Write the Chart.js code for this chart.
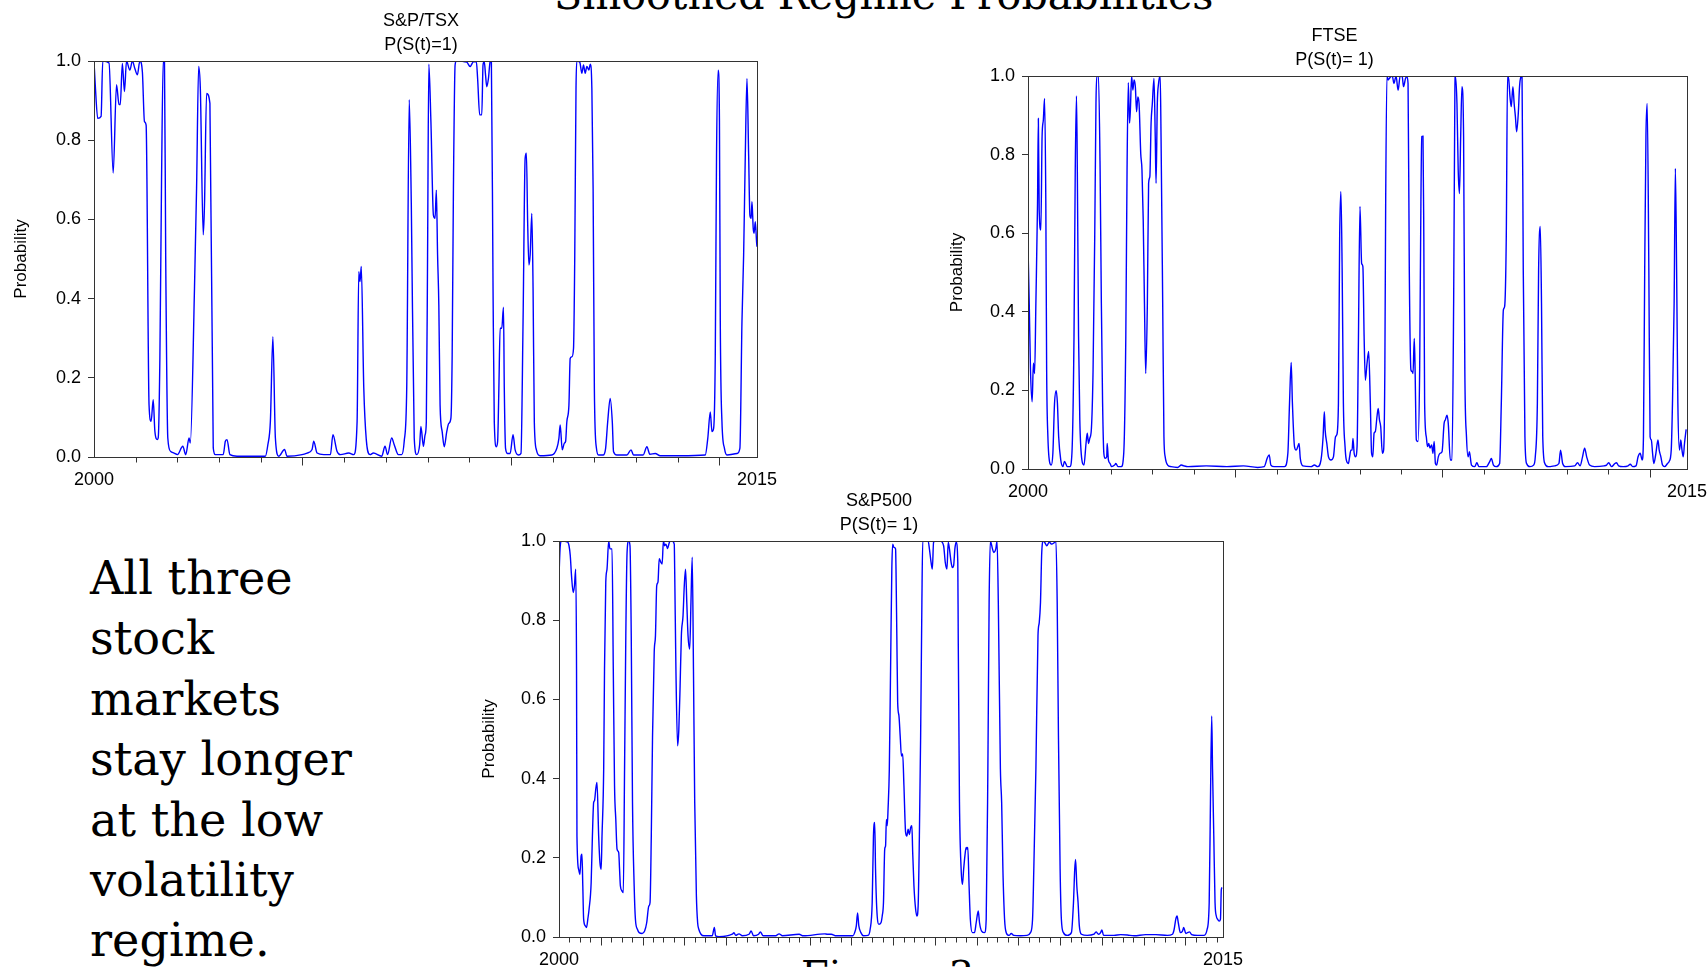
<!DOCTYPE html>
<html>
<head>
<meta charset="utf-8">
<title>Smoothed Regime Probabilities</title>
<script src="https://cdn.jsdelivr.net/npm/chart.js@4.4.0/dist/chart.umd.min.js"></script>
<style>
  html, body { margin: 0; padding: 0; background: #fff; overflow: hidden; width: 1708px; height: 967px; }
  .slide-title { position: absolute; left: 554px; top: -25px; font: 41.2px/41.2px "DejaVu Serif", serif; white-space: nowrap; color: #000; }
  .note { position: absolute; left: 90px; top: 548px; font: 46.2px/60.4px "DejaVu Serif", serif; color: #000; }
  .fig { position: absolute; left: 801px; top: 955px; font: 40px/40px "DejaVu Serif", serif; white-space: nowrap; color: #000; }
  canvas { position: absolute; }
</style>
</head>
<body>
<div class="slide-title">Smoothed Regime Probabilities</div>
<div class="note">All three<br>stock<br>markets<br>stay longer<br>at the low<br>volatility<br>regime.</div>
<div class="fig">Figure 3</div>
<canvas id="tsxChart"></canvas>
<canvas id="ftseChart"></canvas>
<canvas id="spChart"></canvas>
<script>
// smoothed probability of regime 1 (decimal years)
const tsxYears = [2000.00,2000.03,2000.09,2000.17,2000.21,2000.36,2000.46,2000.54,2000.60,2000.63,2000.68,2000.73,2000.78,2000.86,2000.92,2000.98,2001.04,2001.10,2001.16,2001.21,2001.25,2001.32,2001.37,2001.42,2001.46,2001.52,2001.54,2001.58,2001.62,2001.66,2001.69,2001.72,2001.77,2001.84,2001.92,2002.00,2002.13,2002.20,2002.28,2002.31,2002.41,2002.46,2002.51,2002.55,2002.62,2002.65,2002.70,2002.78,2002.86,2002.91,2003.10,2003.15,2003.19,2003.26,2003.43,2004.11,2004.17,2004.23,2004.29,2004.35,2004.43,2004.57,2004.63,2004.99,2005.11,2005.23,2005.27,2005.35,2005.51,2005.67,2005.73,2005.83,2005.91,2006.11,2006.23,2006.31,2006.35,2006.38,2006.41,2006.47,2006.53,2006.62,2006.70,2006.90,2006.98,2007.04,2007.14,2007.20,2007.30,2007.38,2007.44,2007.50,2007.56,2007.61,2007.68,2007.74,2007.81,2007.84,2007.90,2007.94,2007.97,2008.00,2008.03,2008.08,2008.14,2008.18,2008.21,2008.24,2008.27,2008.30,2008.35,2008.40,2008.46,2008.51,2008.56,2008.59,2008.62,2008.66,2008.69,2008.94,2009.02,2009.10,2009.17,2009.20,2009.25,2009.30,2009.33,2009.36,2009.39,2009.42,2009.46,2009.50,2009.53,2009.57,2009.60,2009.65,2009.68,2009.71,2009.74,2009.78,2009.82,2009.84,2009.87,2009.92,2009.98,2010.05,2010.10,2010.18,2010.24,2010.29,2010.34,2010.37,2010.40,2010.43,2010.46,2010.50,2010.53,2010.56,2010.61,2010.70,2010.98,2011.10,2011.15,2011.18,2011.23,2011.28,2011.31,2011.34,2011.39,2011.42,2011.46,2011.50,2011.53,2011.56,2011.58,2011.65,2011.70,2011.74,2011.78,2011.82,2011.87,2011.90,2011.94,2011.97,2012.00,2012.05,2012.10,2012.21,2012.27,2012.32,2012.38,2012.43,2012.46,2012.54,2012.78,2012.88,2012.94,2013.17,2013.26,2013.33,2013.46,2013.58,2014.06,2014.66,2014.72,2014.78,2014.82,2014.86,2014.90,2014.93,2014.97,2015.00,2015.02,2015.06,2015.12,2015.18,2015.42,2015.49,2015.54,2015.58,2015.62,2015.66,2015.70,2015.73,2015.76,2015.78,2015.81,2015.83,2015.86,2015.89,2015.90];
const tsxProb = [1.0,0.94,0.855,0.86,1.0,0.995,0.717,0.94,0.89,0.89,0.994,0.923,1.0,0.977,1.0,0.981,0.965,1.0,0.973,0.847,0.838,0.132,0.09,0.145,0.065,0.044,0.048,0.25,0.7,1.0,1.0,0.5,0.048,0.014,0.01,0.006,0.027,0.006,0.048,0.035,0.426,0.679,0.986,0.931,0.561,0.637,0.918,0.893,0.023,0.006,0.006,0.04,0.044,0.006,0.002,0.002,0.031,0.09,0.304,0.048,0.002,0.019,0.002,0.006,0.01,0.019,0.04,0.01,0.006,0.006,0.056,0.014,0.006,0.01,0.006,0.09,0.468,0.443,0.481,0.174,0.044,0.006,0.01,0.002,0.027,0.006,0.048,0.031,0.006,0.006,0.04,0.174,0.902,0.637,0.048,0.006,0.031,0.077,0.027,0.056,0.089,0.51,0.992,0.847,0.611,0.603,0.674,0.51,0.384,0.131,0.064,0.026,0.064,0.085,0.098,0.258,0.678,0.99,1.0,0.997,0.986,0.998,0.998,0.956,0.864,0.864,0.99,0.998,0.965,0.935,0.956,0.998,1.0,0.426,0.089,0.026,0.039,0.173,0.325,0.325,0.378,0.173,0.022,0.009,0.009,0.056,0.018,0.005,0.009,0.342,0.754,0.767,0.594,0.485,0.51,0.615,0.426,0.089,0.018,0.003,0.005,0.022,0.047,0.081,0.018,0.035,0.039,0.089,0.131,0.249,0.253,0.274,0.51,0.931,1.0,0.997,0.969,0.99,0.969,0.986,0.977,0.992,0.931,0.678,0.173,0.022,0.005,0.005,0.022,0.089,0.148,0.089,0.013,0.005,0.005,0.018,0.005,0.005,0.026,0.007,0.009,0.003,0.003,0.005,0.047,0.114,0.064,0.072,0.258,0.763,0.977,0.847,0.342,0.089,0.022,0.005,0.009,0.022,0.342,0.51,0.763,0.956,0.763,0.611,0.603,0.645,0.577,0.565,0.594,0.544,0.531];

const ftseYears = [2000.00,2000.03,2000.06,2000.10,2000.13,2000.16,2000.19,2000.23,2000.25,2000.27,2000.31,2000.34,2000.37,2000.40,2000.43,2000.45,2000.48,2000.53,2000.56,2000.60,2000.64,2000.68,2000.71,2000.74,2000.79,2000.84,2000.88,2000.95,2001.01,2001.06,2001.11,2001.14,2001.17,2001.19,2001.22,2001.25,2001.30,2001.35,2001.40,2001.43,2001.46,2001.49,2001.53,2001.57,2001.61,2001.64,2001.66,2001.70,2001.74,2001.77,2001.80,2001.83,2001.86,2001.90,2001.91,2001.94,2001.98,2002.02,2002.09,2002.12,2002.17,2002.25,2002.31,2002.36,2002.39,2002.42,2002.45,2002.47,2002.50,2002.53,2002.56,2002.59,2002.62,2002.65,2002.68,2002.72,2002.75,2002.78,2002.81,2002.84,2002.88,2002.91,2002.94,2002.97,2003.00,2003.04,2003.07,2003.09,2003.12,2003.15,2003.19,2003.21,2003.25,2003.28,2003.31,2003.37,2003.45,2003.61,2003.70,2003.76,2003.86,2004.30,2004.80,2005.20,2005.54,2005.70,2005.77,2005.82,2005.86,2005.94,2006.19,2006.27,2006.31,2006.35,2006.38,2006.43,2006.47,2006.51,2006.54,2006.57,2006.63,2006.83,2006.91,2006.99,2007.07,2007.12,2007.15,2007.17,2007.21,2007.25,2007.31,2007.37,2007.42,2007.45,2007.49,2007.52,2007.55,2007.58,2007.61,2007.65,2007.68,2007.73,2007.76,2007.79,2007.82,2007.84,2007.87,2007.90,2007.94,2007.97,2008.01,2008.05,2008.08,2008.11,2008.14,2008.18,2008.22,2008.26,2008.29,2008.32,2008.35,2008.38,2008.42,2008.45,2008.48,2008.51,2008.55,2008.58,2008.61,2008.63,2008.66,2008.69,2008.74,2008.79,2008.83,2008.88,2008.93,2008.98,2009.03,2009.06,2009.11,2009.14,2009.17,2009.20,2009.24,2009.27,2009.29,2009.32,2009.34,2009.37,2009.41,2009.45,2009.48,2009.50,2009.53,2009.55,2009.57,2009.61,2009.64,2009.67,2009.70,2009.74,2009.77,2009.80,2009.83,2009.86,2009.90,2009.94,2009.99,2010.04,2010.07,2010.11,2010.14,2010.19,2010.23,2010.27,2010.30,2010.31,2010.35,2010.38,2010.41,2010.44,2010.47,2010.51,2010.54,2010.58,2010.62,2010.65,2010.70,2010.78,2010.83,2010.88,2011.06,2011.14,2011.18,2011.23,2011.30,2011.38,2011.42,2011.47,2011.50,2011.54,2011.57,2011.60,2011.63,2011.66,2011.70,2011.73,2011.76,2011.79,2011.83,2011.86,2011.89,2011.92,2011.95,2011.99,2012.03,2012.11,2012.20,2012.24,2012.29,2012.32,2012.36,2012.39,2012.42,2012.47,2012.55,2012.71,2012.81,2012.85,2012.90,2012.97,2013.19,2013.26,2013.32,2013.38,2013.43,2013.48,2013.55,2013.67,2013.90,2013.96,2014.01,2014.08,2014.16,2014.20,2014.25,2014.36,2014.48,2014.53,2014.59,2014.67,2014.72,2014.77,2014.82,2014.85,2014.88,2014.91,2014.94,2014.98,2015.01,2015.04,2015.07,2015.10,2015.15,2015.20,2015.23,2015.27,2015.31,2015.36,2015.43,2015.47,2015.52,2015.55,2015.59,2015.62,2015.65,2015.68,2015.72,2015.75,2015.78,2015.81,2015.84,2015.88];
const ftseProb = [0.566,0.422,0.252,0.171,0.269,0.243,0.422,0.676,0.892,0.659,0.608,0.846,0.888,0.943,0.676,0.252,0.082,0.014,0.01,0.04,0.167,0.199,0.167,0.082,0.023,0.006,0.019,0.006,0.006,0.04,0.337,0.761,0.949,0.761,0.337,0.125,0.023,0.01,0.065,0.091,0.065,0.078,0.103,0.252,0.591,0.93,1.0,1.0,0.761,0.422,0.167,0.04,0.027,0.031,0.065,0.023,0.014,0.006,0.01,0.014,0.006,0.006,0.04,0.337,0.761,0.983,0.88,0.913,1.0,0.964,0.99,0.973,0.909,0.947,0.93,0.803,0.761,0.634,0.422,0.243,0.422,0.727,0.744,0.88,0.93,0.994,0.846,0.727,0.93,0.981,1.0,0.846,0.422,0.082,0.031,0.01,0.006,0.004,0.01,0.008,0.006,0.008,0.006,0.008,0.004,0.006,0.027,0.036,0.01,0.006,0.006,0.04,0.167,0.271,0.167,0.057,0.048,0.057,0.065,0.027,0.008,0.006,0.01,0.006,0.023,0.082,0.146,0.099,0.065,0.031,0.023,0.031,0.082,0.087,0.167,0.591,0.706,0.506,0.167,0.057,0.023,0.014,0.031,0.048,0.048,0.078,0.04,0.031,0.057,0.3,0.668,0.523,0.515,0.337,0.226,0.269,0.299,0.167,0.04,0.031,0.091,0.095,0.133,0.154,0.125,0.108,0.04,0.048,0.252,0.676,1.0,0.99,0.997,1.0,0.981,1.0,0.964,1.0,0.998,0.973,0.994,0.998,0.981,0.506,0.252,0.248,0.243,0.332,0.252,0.074,0.07,0.252,0.676,0.846,0.847,0.591,0.167,0.082,0.057,0.065,0.053,0.061,0.04,0.07,0.014,0.01,0.031,0.04,0.044,0.116,0.125,0.137,0.116,0.023,0.023,0.422,0.964,1.0,0.93,0.761,0.701,0.846,0.973,0.846,0.252,0.082,0.031,0.044,0.01,0.006,0.016,0.006,0.006,0.019,0.027,0.01,0.006,0.014,0.167,0.405,0.413,0.591,1.0,0.99,0.947,0.922,0.973,0.93,0.897,0.858,0.905,0.973,0.997,1.0,0.506,0.082,0.014,0.006,0.01,0.031,0.167,0.506,0.617,0.422,0.082,0.014,0.006,0.008,0.014,0.048,0.014,0.006,0.008,0.016,0.008,0.031,0.053,0.031,0.01,0.006,0.008,0.01,0.016,0.006,0.014,0.016,0.008,0.006,0.008,0.012,0.006,0.008,0.031,0.04,0.023,0.082,0.506,0.846,0.93,0.506,0.082,0.074,0.04,0.014,0.04,0.074,0.048,0.031,0.01,0.006,0.014,0.019,0.048,0.167,0.422,0.765,0.506,0.167,0.048,0.074,0.048,0.031,0.065,0.101];

const spYears = [2000.00,2000.03,2000.06,2000.21,2000.24,2000.27,2000.30,2000.34,2000.37,2000.40,2000.42,2000.43,2000.47,2000.50,2000.53,2000.55,2000.57,2000.59,2000.63,2000.66,2000.69,2000.72,2000.77,2000.80,2000.83,2000.85,2000.88,2000.91,2000.95,2000.98,2001.01,2001.03,2001.07,2001.09,2001.12,2001.15,2001.19,2001.22,2001.27,2001.30,2001.33,2001.36,2001.39,2001.43,2001.45,2001.47,2001.51,2001.54,2001.57,2001.60,2001.63,2001.67,2001.70,2001.73,2001.76,2001.80,2001.83,2001.88,2001.92,2001.99,2002.05,2002.10,2002.15,2002.18,2002.21,2002.24,2002.28,2002.31,2002.34,2002.37,2002.40,2002.44,2002.47,2002.50,2002.53,2002.56,2002.60,2002.63,2002.66,2002.71,2002.76,2002.77,2002.80,2002.84,2002.87,2002.90,2002.93,2002.97,2003.00,2003.03,2003.06,2003.09,2003.13,2003.16,2003.19,2003.22,2003.25,2003.29,2003.32,2003.35,2003.40,2003.47,2003.67,2003.72,2003.75,2003.83,2004.15,2004.19,2004.23,2004.31,2004.39,2004.55,2004.60,2004.66,2004.78,2004.82,2004.89,2005.19,2005.27,2005.35,2005.75,2005.85,2006.36,2006.43,2006.52,2006.64,2007.04,2007.08,2007.12,2007.15,2007.18,2007.23,2007.29,2007.40,2007.45,2007.50,2007.53,2007.56,2007.58,2007.61,2007.66,2007.71,2007.74,2007.77,2007.80,2007.82,2007.84,2007.86,2007.88,2007.91,2007.94,2007.97,2007.99,2008.02,2008.06,2008.07,2008.09,2008.11,2008.14,2008.17,2008.20,2008.23,2008.26,2008.30,2008.33,2008.36,2008.39,2008.42,2008.45,2008.47,2008.50,2008.54,2008.57,2008.60,2008.63,2008.66,2008.69,2008.71,2008.84,2008.87,2008.91,2008.94,2008.97,2009.02,2009.13,2009.21,2009.25,2009.29,2009.32,2009.35,2009.39,2009.42,2009.45,2009.48,2009.51,2009.55,2009.56,2009.59,2009.63,2009.66,2009.69,2009.72,2009.75,2009.77,2009.79,2009.82,2009.85,2009.90,2009.95,2009.99,2010.04,2010.07,2010.12,2010.19,2010.23,2010.27,2010.30,2010.33,2010.38,2010.41,2010.46,2010.49,2010.52,2010.57,2010.60,2010.63,2010.67,2010.71,2010.78,2010.83,2010.89,2011.05,2011.21,2011.29,2011.34,2011.37,2011.42,2011.47,2011.50,2011.53,2011.56,2011.60,2011.64,2011.68,2011.74,2011.80,2011.85,2011.90,2011.93,2011.96,2012.00,2012.03,2012.08,2012.17,2012.27,2012.32,2012.35,2012.37,2012.40,2012.43,2012.46,2012.51,2012.65,2012.81,2012.86,2012.92,2012.97,2013.00,2013.04,2013.29,2013.45,2013.61,2013.77,2014.05,2014.29,2014.57,2014.69,2014.73,2014.77,2014.80,2014.83,2014.88,2014.93,2014.96,2015.01,2015.05,2015.10,2015.15,2015.29,2015.45,2015.52,2015.57,2015.60,2015.63,2015.65,2015.68,2015.71,2015.74,2015.77,2015.81,2015.84,2015.86,2015.88];
const spProb = [0.912,0.988,1.0,0.997,0.988,0.963,0.912,0.87,0.887,0.929,0.676,0.255,0.171,0.158,0.205,0.209,0.129,0.045,0.028,0.024,0.045,0.07,0.137,0.255,0.34,0.344,0.373,0.39,0.255,0.188,0.171,0.255,0.424,0.676,0.896,0.929,1.0,0.98,0.98,0.676,0.382,0.297,0.222,0.213,0.171,0.129,0.116,0.112,0.424,0.761,0.971,1.0,0.988,0.761,0.34,0.129,0.045,0.019,0.011,0.009,0.015,0.036,0.078,0.087,0.255,0.508,0.719,0.761,0.887,0.896,0.955,0.946,0.942,1.0,0.988,0.992,0.981,0.992,1.0,1.0,0.992,0.929,0.676,0.483,0.525,0.634,0.761,0.811,0.887,0.929,0.845,0.761,0.727,0.845,0.959,0.676,0.34,0.104,0.036,0.019,0.007,0.003,0.003,0.024,0.003,0.001,0.007,0.011,0.004,0.008,0.003,0.007,0.015,0.003,0.007,0.013,0.003,0.003,0.008,0.003,0.007,0.003,0.008,0.007,0.007,0.003,0.003,0.011,0.028,0.061,0.028,0.011,0.003,0.004,0.019,0.087,0.255,0.289,0.171,0.07,0.032,0.036,0.053,0.087,0.222,0.23,0.297,0.281,0.323,0.424,0.676,0.929,0.992,0.984,0.98,0.929,0.761,0.592,0.559,0.508,0.457,0.462,0.382,0.264,0.255,0.272,0.259,0.276,0.281,0.213,0.129,0.07,0.053,0.078,0.255,0.508,0.845,1.0,1.0,0.98,0.946,0.929,0.997,1.0,1.0,0.988,0.946,0.929,0.997,0.98,0.946,0.933,0.938,0.98,0.997,0.946,0.761,0.34,0.171,0.133,0.171,0.205,0.226,0.222,0.226,0.129,0.045,0.011,0.011,0.036,0.066,0.036,0.015,0.011,0.045,0.424,0.845,1.0,0.98,0.971,0.98,1.0,0.845,0.424,0.34,0.171,0.045,0.011,0.004,0.009,0.004,0.003,0.004,0.011,0.045,0.171,0.424,0.761,0.794,0.845,0.971,1.0,0.995,0.988,0.997,0.992,0.995,1.0,0.845,0.508,0.171,0.045,0.011,0.004,0.011,0.087,0.171,0.196,0.129,0.087,0.028,0.007,0.004,0.007,0.013,0.007,0.011,0.018,0.004,0.004,0.006,0.005,0.003,0.006,0.006,0.004,0.007,0.019,0.045,0.053,0.036,0.011,0.015,0.024,0.009,0.011,0.013,0.006,0.004,0.004,0.019,0.087,0.34,0.558,0.424,0.255,0.087,0.053,0.045,0.04,0.045,0.12,0.125];

const yTicks = [0, 0.2, 0.4, 0.6, 0.8, 1.0];
const xLabels = ["2000", "2015"];
const xStart = 2000;
const xEnd = 2015.9;

const fontFamily = "'Liberation Sans', Arial, sans-serif";
Chart.defaults.font.family = fontFamily;
Chart.defaults.color = "#000";

// frame, x tick marks and the two title lines above each panel
const panelDecor = {
  id: "panelDecor",
  afterDraw(chart, args, opts) {
    const ctx = chart.ctx;
    const a = chart.chartArea;
    const xs = chart.scales.x;
    ctx.save();
    ctx.strokeStyle = "#333";
    ctx.lineWidth = 1;
    const l = Math.round(a.left) + 0.5, t = Math.round(a.top) + 0.5;
    const r = Math.round(a.right) + 0.5, b = Math.round(a.bottom) + 0.5;
    ctx.strokeRect(l, t, r - l, b - t);

    const n = Math.floor((xEnd - xStart) / opts.minor + 1e-6);
    ctx.beginPath();
    for (let i = 1; i <= n; i++) {
      const v = xStart + i * opts.minor;
      const px = Math.round(xs.getPixelForValue(v)) + 0.5;
      const q = v / opts.major;
      const len = Math.abs(q - Math.round(q)) < 1e-6 ? 8 : 5;
      ctx.moveTo(px, b);
      ctx.lineTo(px, b + len);
    }
    ctx.stroke();

    ctx.fillStyle = "#000";
    ctx.font = "18px " + fontFamily;
    ctx.textAlign = "center";
    ctx.textBaseline = "middle";
    const cx = (a.left + a.right) / 2 + opts.shift;
    ctx.fillText(opts.titles[0], cx, a.top - 40);
    ctx.fillText(opts.titles[1], cx, a.top - 16);
    ctx.restore();
  },
};

function makePanel(id, box, decor, years, probs) {
  const padTop = 52;
  const xH = 40;
  const padR = 32; // room the library keeps for the last x label
  const canvas = document.getElementById(id);
  canvas.width = box.yW + (box.R - box.L) + padR;
  canvas.height = padTop + (box.B - box.T) + xH;
  canvas.style.left = box.L - box.yW + "px";
  canvas.style.top = box.T - padTop + "px";

  new Chart(canvas, {
    type: "line",
    data: {
      datasets: [
        {
          data: years.map((t, i) => ({ x: t, y: probs[i] })),
          borderColor: "#0000ff",
          borderWidth: 1.4,
          pointRadius: 0,
          fill: false,
          cubicInterpolationMode: "monotone",
        },
      ],
    },
    options: {
      responsive: false,
      animation: false,
      layout: { padding: { top: padTop, right: 0, left: 0, bottom: 0 } },
      plugins: {
        legend: { display: false },
        tooltip: { enabled: false },
        panelDecor: decor,
      },
      scales: {
        x: {
          type: "linear",
          min: xStart,
          max: xEnd,
          afterBuildTicks: (s) => {
            s.ticks = [{ value: xStart }, { value: xEnd }];
          },
          ticks: {
            autoSkip: false,
            maxRotation: 0,
            padding: 12,
            font: { size: 18 },
            callback: (v, i) => xLabels[i],
          },
          grid: { display: false, drawTicks: false },
          border: { display: false },
          afterFit: (s) => {
            s.height = xH;
          },
        },
        y: {
          min: 0,
          max: 1,
          afterBuildTicks: (s) => {
            s.ticks = yTicks.map((v) => ({ value: v }));
          },
          ticks: {
            padding: 7,
            font: { size: 18 },
            callback: (v) => Number(v).toFixed(1),
          },
          grid: { drawOnChartArea: false, tickLength: 6, color: "#333" },
          border: { display: false },
          title: {
            display: true,
            text: "Probability",
            font: { size: 17 },
            padding: { top: 0, bottom: 0 },
          },
          afterFit: (s) => {
            s.width = box.yW;
          },
        },
      },
    },
    plugins: [panelDecor],
  });
}

makePanel(
  "tsxChart",
  { L: 94, T: 61, R: 757, B: 457, yW: 83 },
  { titles: ["S&P/TSX", "P(S(t)=1)"], shift: -4.5, minor: 1, major: 5 },
  tsxYears,
  tsxProb
);

makePanel(
  "ftseChart",
  { L: 1028, T: 76, R: 1687, B: 469, yW: 81 },
  { titles: ["FTSE", "P(S(t)= 1)"], shift: -23, minor: 1, major: 5 },
  ftseYears,
  ftseProb
);

makePanel(
  "spChart",
  { L: 559, T: 541, R: 1223, B: 937, yW: 80 },
  { titles: ["S&P500", "P(S(t)= 1)"], shift: -12, minor: 0.25, major: 1 },
  spYears,
  spProb
);
</script>
</body>
</html>
